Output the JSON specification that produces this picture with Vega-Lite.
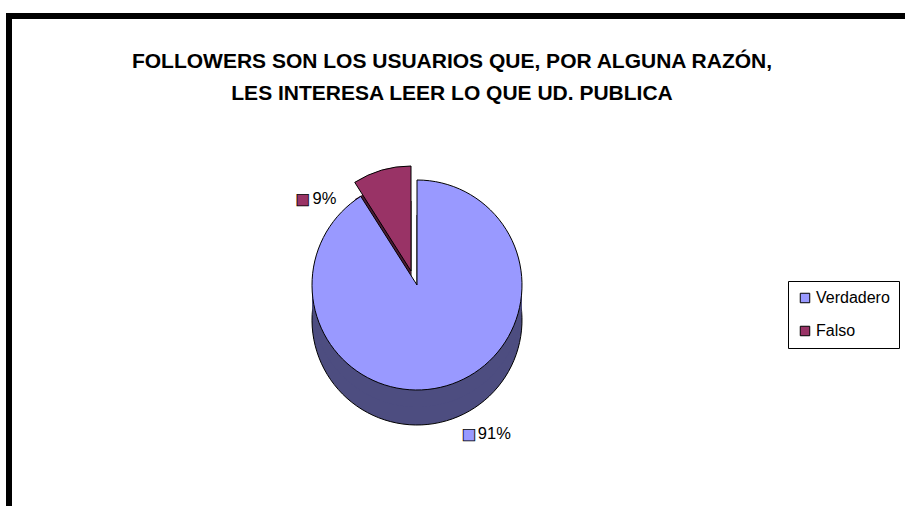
{
  "$schema": "https://vega.github.io/schema/vega-lite/v6.json",
  "width": 1000,
  "height": 600,
  "autosize": "none",
  "padding": {"left": 9, "top": 16, "right": 0, "bottom": 0},
  "background": "white",
  "view": {"stroke": "black", "strokeWidth": 6, "fill": "white"},
  "config": {
    "view": {"stroke": "black", "strokeWidth": 6, "fill": "white"},
    "font": "Liberation Sans",
    "legend": {"strokeWidth": 1}
  },
  "title": {
    "text": ["FOLLOWERS SON LOS USUARIOS QUE, POR ALGUNA RAZÓN,", "LES INTERESA LEER LO QUE UD. PUBLICA"],
    "font": "Liberation Sans",
    "fontSize": 21,
    "fontWeight": "bold",
    "color": "black",
    "anchor": "middle",
    "baseline": "top",
    "lineHeight": 32,
    "offset": 0,
    "dx": -57,
    "dy": 88
  },
  "data": {
    "values": [
      {"Respuesta": "Verdadero", "Porcentaje": 0.91},
      {"Respuesta": "Falso", "Porcentaje": 0.09}
    ]
  },
  "encoding": {
    "theta": {"field": "Porcentaje", "type": "quantitative", "stack": true},
    "order": {"field": "Respuesta", "sort": "descending"}
  },
  "layer": [
    {
      "mark": {"type": "arc", "radius": 105, "x": 402, "y": 255, "yOffset": 35, "color": "#4d1a33", "stroke": "black", "strokeWidth": 1},
      "encoding": {"opacity": {"condition": {"test": "datum.Respuesta === 'Falso'", "value": 1}, "value": 0}}
    },
    {
      "mark": {"type": "arc", "radius": 105, "x": 402, "y": 255, "yOffset": 17, "color": "#4d1a33"},
      "encoding": {"opacity": {"condition": {"test": "datum.Respuesta === 'Falso'", "value": 1}, "value": 0}}
    },
    {
      "mark": {"type": "arc", "radius": 105, "x": 402, "y": 255, "stroke": "black", "strokeWidth": 1},
      "encoding": {
        "color": {"field": "Respuesta", "type": "nominal", "scale": {"domain": ["Verdadero", "Falso"], "range": ["#9999ff", "#993366"]},
          "legend": {"title": null, "orient": "none", "legendX": 779, "legendY": 265, "strokeColor": "black", "fillColor": "white", "padding": 9, "rowPadding": 17, "symbolType": "square", "symbolSize": 90, "symbolStrokeColor": "black", "symbolStrokeWidth": 1, "symbolOpacity": 1, "labelFont": "Liberation Sans", "labelFontSize": 16, "labelColor": "black", "labelOffset": 3, "cornerRadius": 0}},
        "opacity": {"condition": {"test": "datum.Respuesta === 'Falso'", "value": 1}, "value": 0}
      }
    },
    {
      "mark": {"type": "arc", "radius": 105, "x": 408, "y": 269, "yOffset": 35, "color": "#4d4d80", "stroke": "black", "strokeWidth": 1},
      "encoding": {"opacity": {"condition": {"test": "datum.Respuesta === 'Verdadero'", "value": 1}, "value": 0}}
    },
    {
      "mark": {"type": "arc", "radius": 105, "x": 408, "y": 269, "yOffset": 17, "color": "#4d4d80"},
      "encoding": {"opacity": {"condition": {"test": "datum.Respuesta === 'Verdadero'", "value": 1}, "value": 0}}
    },
    {
      "mark": {"type": "arc", "radius": 105, "x": 408, "y": 269, "stroke": "black", "strokeWidth": 1},
      "encoding": {
        "color": {"field": "Respuesta", "type": "nominal"},
        "opacity": {"condition": {"test": "datum.Respuesta === 'Verdadero'", "value": 1}, "value": 0}
      }
    },
    {
      "mark": {"type": "text", "radius": 120, "x": 402, "y": 255, "dx": -75, "dy": 43, "text": "■", "font": "DejaVu Sans", "fontSize": 15, "align": "center", "baseline": "middle", "stroke": "black", "strokeWidth": 0.8},
      "encoding": {
        "color": {"field": "Respuesta", "type": "nominal"},
        "opacity": {"condition": {"test": "datum.Respuesta === 'Falso'", "value": 1}, "value": 0}
      }
    },
    {
      "mark": {"type": "text", "radius": 120, "x": 402, "y": 255, "dx": -65, "dy": 43, "fontSize": 16.5, "align": "left", "baseline": "middle", "color": "black"},
      "encoding": {
        "text": {"field": "Porcentaje", "type": "quantitative", "format": ".0%"},
        "opacity": {"condition": {"test": "datum.Respuesta === 'Falso'", "value": 1}, "value": 0}
      }
    },
    {
      "mark": {"type": "text", "radius": 150, "x": 408, "y": 269, "dx": 10, "dy": 5, "text": "■", "font": "DejaVu Sans", "fontSize": 15, "align": "center", "baseline": "middle", "stroke": "black", "strokeWidth": 0.8},
      "encoding": {
        "color": {"field": "Respuesta", "type": "nominal"},
        "opacity": {"condition": {"test": "datum.Respuesta === 'Verdadero'", "value": 1}, "value": 0}
      }
    },
    {
      "mark": {"type": "text", "radius": 150, "x": 408, "y": 269, "dx": 19, "dy": 5, "fontSize": 16.5, "align": "left", "baseline": "middle", "color": "black"},
      "encoding": {
        "text": {"field": "Porcentaje", "type": "quantitative", "format": ".0%"},
        "opacity": {"condition": {"test": "datum.Respuesta === 'Verdadero'", "value": 1}, "value": 0}
      }
    }
  ]
}
